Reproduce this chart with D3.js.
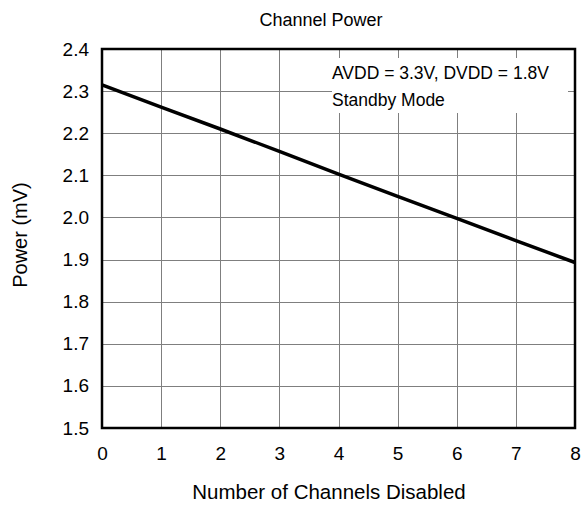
<!DOCTYPE html>
<html><head><meta charset="utf-8">
<script src="https://cdn.jsdelivr.net/npm/d3@7"></script>
<style>body{margin:0;background:#fff}svg{display:block}text{font-family:"Liberation Sans",Arial,sans-serif;fill:#000}</style>
</head><body><svg id="c" width="582" height="507"></svg>
<script>
const channelsDisabled = [0,1,2,3,4,5,6,7,8];
const powerValues = [2.315,2.262,2.210,2.157,2.103,2.050,1.998,1.945,1.893];
const xTicks = [0,1,2,3,4,5,6,7,8];
const yTicks = [1.5,1.6,1.7,1.8,1.9,2.0,2.1,2.2,2.3,2.4];
const titleText = "Channel Power";
const xLabel = "Number of Channels Disabled";
const yLabel = "Power (mV)";
const noteLines = ["AVDD = 3.3V, DVDD = 1.8V","Standby Mode"];

const m = {l:102,t:49,r:575,b:428};
const svg = d3.select("#c");
const x = d3.scaleLinear().domain([0,8]).range([m.l,m.r]);
const y = d3.scaleLinear().domain([1.5,2.4]).range([m.b,m.t]);

const grid = svg.append("g").attr("stroke","#7f7f7f").attr("stroke-width",1);
grid.selectAll(".vx").data(xTicks.slice(1,-1)).join("line")
  .attr("x1",d=>Math.round(x(d))+0.5).attr("x2",d=>Math.round(x(d))+0.5).attr("y1",m.t).attr("y2",m.b);
grid.selectAll(".hy").data(yTicks.slice(1,-1)).join("line")
  .attr("y1",d=>Math.round(y(d))+0.5).attr("y2",d=>Math.round(y(d))+0.5).attr("x1",m.l).attr("x2",m.r);

// note box
svg.append("rect").attr("x",332).attr("y",58).attr("width",236).attr("height",55).attr("fill","#fff");
svg.selectAll(".note").data(noteLines).join("text")
  .attr("x",332).attr("y",(d,i)=>79+i*27).attr("font-size",17.5).text(d=>d);

svg.append("path").datum(channelsDisabled.map((c,i)=>[c,powerValues[i]]))
  .attr("fill","none").attr("stroke","#000").attr("stroke-width",3.5)
  .attr("d",d3.line().x(d=>x(d[0])).y(d=>y(d[1])));

svg.append("rect").attr("x",m.l).attr("y",m.t).attr("width",m.r-m.l).attr("height",m.b-m.t)
  .attr("fill","none").attr("stroke","#000").attr("stroke-width",2.5);

const xa = svg.append("g").attr("transform",`translate(0,${m.b})`)
  .call(d3.axisBottom(x).tickValues(xTicks).tickSize(0).tickPadding(19).tickFormat(d3.format("d")));
const ya = svg.append("g").attr("transform",`translate(${m.l},0)`)
  .call(d3.axisLeft(y).tickValues(yTicks).tickSize(0).tickPadding(13).tickFormat(d3.format(".1f")));
[xa,ya].forEach(a=>{a.select(".domain").remove();a.selectAll("text").attr("font-size",19).attr("font-family","Liberation Sans, Arial, sans-serif").attr("fill","#000");});

svg.append("text").attr("x",321).attr("y",26).attr("text-anchor","middle").attr("font-size",18).text(titleText);
svg.append("text").attr("x",329).attr("y",499).attr("text-anchor","middle").attr("font-size",20.5).text(xLabel);
svg.append("text").attr("transform",`translate(27,235) rotate(-90)`).attr("text-anchor","middle").attr("font-size",20).text(yLabel);
</script></body></html>
